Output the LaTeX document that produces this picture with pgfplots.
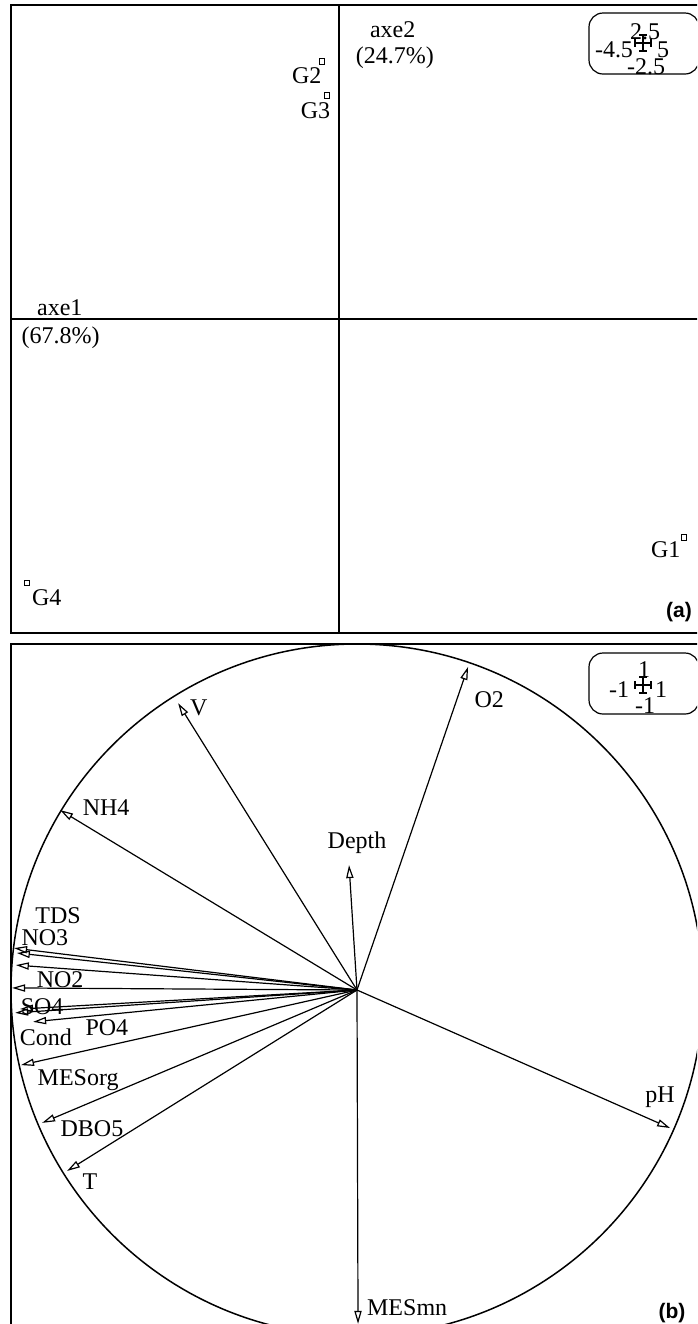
\documentclass[border=0pt]{standalone}
\usepackage{fontspec}
\setmainfont{Liberation Serif}
\newfontfamily\panelfont{Liberation Sans}
\usepackage{pgfplots}
\pgfplotsset{compat=1.18}
\usepackage{pgfplotstable}
\usetikzlibrary{arrows.meta}

% group centroids on the first two axes
\pgfplotstableread{
x y
-0.23 2.05
-0.16 1.78
-4.28 -2.10
4.74 -1.74
}\groups

% variable loadings (correlation circle)
\pgfplotstableread{
x y u v
0 0 0.321 0.934
0 0 -0.517 0.829
0 0 -0.858 0.520
0 0 -0.023 0.361
0 0 -0.991 0.121
0 0 -0.983 0.107
0 0 -0.986 0.072
0 0 -0.997 0.006
0 0 -0.974 -0.055
0 0 -0.988 -0.066
0 0 -0.936 -0.092
0 0 -0.971 -0.217
0 0 -0.910 -0.384
0 0 -0.838 -0.523
0 0 0.905 -0.399
0 0 0.003 -0.965
}\loadings

\begin{document}
\begin{tikzpicture}[x=0.5pt, y=-0.5pt, font=\fontsize{12}{14}\selectfont]
\useasboundingbox (0,0) rectangle (697,1324);
\clip (0,0) rectangle (697,1324);

% ---------- (a) factorial map of the groups ----------
\begin{axis}[at={(5.5pt,-2.5pt)}, anchor=north west, scale only axis,
  width=346pt, height=314pt,
  xmin=-4.5, xmax=5, ymin=-2.5, ymax=2.5,
  xtick=\empty, ytick=\empty, clip=false,
  axis line style={line width=1pt}]
  \addplot[black, line width=1pt] coordinates {(-4.5,0) (5,0)};
  \addplot[black, line width=1pt] coordinates {(0,-2.5) (0,2.5)};
  \addplot[only marks, mark=square, mark size=1.3pt, mark options={line width=0.5pt}] table {\groups};
  \node at (axis cs:-0.44,1.94) {G2};
  \node at (axis cs:-0.32,1.66) {G3};
  \node at (axis cs:-4.01,-2.22) {G4};
  \node at (axis cs:4.49,-1.84) {G1};
  \node at (axis cs:0.74,2.30) {axe2};
  \node at (axis cs:0.77,2.08) {(24.7\%)};
  \node at (axis cs:-3.83,0.09) {axe1};
  \node at (axis cs:-3.82,-0.15) {(67.8\%)};
\end{axis}

% scale box (a)
\draw[line width=0.6pt, rounded corners=7pt] (589,13) rectangle (699,74);
\begin{scope}[line width=1.1pt]
  \draw (635,43) -- (651,43);
  \draw (643,35) -- (643,51);
  \draw (635,39) -- (635,47);
  \draw (651,39) -- (651,47);
  \draw (639,35) -- (647,35);
  \draw (639,51) -- (647,51);
\end{scope}
\node at (645,32) {2.5};
\node at (614,50) {-4.5};
\node at (663,50) {5};
\node at (646,67) {-2.5};
\node[font=\panelfont\bfseries\fontsize{10.5}{12}\selectfont] at (679,612) {(a)};

% ---------- (b) correlation circle ----------
\begin{axis}[at={(5.5pt,-322pt)}, anchor=north west, scale only axis,
  width=346pt, height=346pt,
  xmin=-1, xmax=1, ymin=-1, ymax=1,
  xtick=\empty, ytick=\empty, clip=false,
  axis line style={line width=1pt}]
  \draw[line width=0.75pt] (axis cs:0,0) circle[radius=1];
  \addplot[black, line width=0.6pt,
    -{Triangle[open, length=6.5pt, width=3.6pt]},
    quiver={u=\thisrow{u}, v=\thisrow{v}}] table {\loadings};
  \node at (axis cs:0.382,0.838) {O2};
  \node at (axis cs:-0.457,0.815) {V};
  \node at (axis cs:-0.725,0.526) {NH4};
  \node at (axis cs:0.0,0.425) {Depth};
  \node at (axis cs:-0.864,0.214) {TDS};
  \node at (axis cs:-0.902,0.150) {NO3};
  \node at (axis cs:-0.858,0.029) {NO2};
  \node at (axis cs:-0.910,-0.049) {SO4};
  \node at (axis cs:-0.899,-0.136) {Cond};
  \node at (axis cs:-0.723,-0.110) {PO4};
  \node at (axis cs:-0.806,-0.260) {MESorg};
  \node at (axis cs:-0.766,-0.402) {DBO5};
  \node at (axis cs:-0.772,-0.555) {T};
  \node at (axis cs:0.876,-0.309) {pH};
  \node at (axis cs:0.145,-0.919) {MESmn};
\end{axis}

% scale box (b)
\draw[line width=0.6pt, rounded corners=7pt] (589,653) rectangle (699,714);
\begin{scope}[line width=1.1pt]
  \draw (635,685) -- (651,685);
  \draw (643,677) -- (643,693);
  \draw (635,681) -- (635,689);
  \draw (651,681) -- (651,689);
  \draw (639,677) -- (647,677);
  \draw (639,693) -- (647,693);
\end{scope}
\node at (644,670) {1};
\node at (619,690) {-1};
\node at (661,690) {1};
\node at (645,706) {-1};
\node[font=\panelfont\bfseries\fontsize{10.5}{12}\selectfont] at (672,1313) {(b)};
\end{tikzpicture}
\end{document}
